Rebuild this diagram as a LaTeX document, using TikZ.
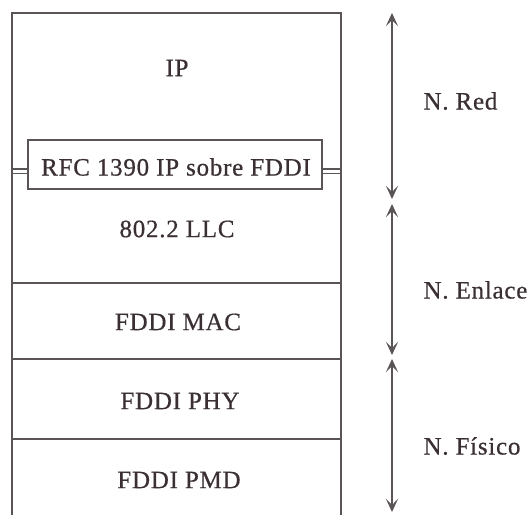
\documentclass[tikz,border=0pt]{standalone}
\usepackage{fontspec}
\setmainfont[LetterSpace=3,FakeBold=0.6]{Liberation Serif}
\usetikzlibrary{arrows.meta}
\definecolor{linec}{HTML}{5A5358}
\definecolor{textc}{HTML}{3A3034}
\tikzset{
  layer/.style={text=textc, font=\fontsize{25}{28}\selectfont, anchor=center},
  lvl/.style={text=textc, font=\fontsize{25}{28}\selectfont, anchor=west},
  frame/.style={draw=linec, line width=1.6pt},
  tipk/.style={},
  span/.style={draw=linec, line width=1.3pt, {Stealth[length=13pt,width=12pt,inset=6pt]}-{Stealth[length=13pt,width=12pt,inset=6pt]}},
}
\begin{document}
\begin{tikzpicture}[x=1pt,y=-1pt]
\useasboundingbox (0,0) rectangle (531,515);
% outer stack
\draw[frame] (12,515) -- (12,13) -- (341,13) -- (341,515);
\draw[frame] (12,283) -- (341,283);
\draw[frame] (12,359) -- (341,359);
\draw[frame] (12,439) -- (341,439);
% double connectors to RFC box
\draw[frame, line width=1.2pt] (12,169) -- (28,169) (12,173.5) -- (28,173.5);
\draw[frame, line width=1.2pt] (322,169) -- (341,169) (322,173.5) -- (341,173.5);
\node[draw=linec, line width=1.6pt, fill=white, minimum width=294pt, minimum height=49pt, inner sep=0pt] (rfc) at (175,164.5) {};
\node[layer] (rfct) at (176,167) {RFC 1390 IP sobre FDDI};
% layer labels
\node[layer] (ip) at (177,68) {IP};
\node[layer] (llc) at (177,229) {802.2 LLC};
\node[layer] (mac) at (178,322) {FDDI MAC};
\node[layer] (phy) at (180,401) {FDDI PHY};
\node[layer] (pmd) at (179,480) {FDDI PMD};
% level arrows
\coordinate (a1) at (392,13);
\coordinate (a2) at (392,199);
\coordinate (b1) at (392,204);
\coordinate (b2) at (392,355);
\coordinate (c1) at (392,359);
\coordinate (c2) at (392,512);
\draw[span] (a1) -- (a2);
\draw[span] (b1) -- (b2);
\draw[span] (c1) -- (c2);
% level labels
\node[lvl] (red) at (420,101) {N. Red};
\node[lvl] (enl) at (420,290) {N. Enlace};
\node[lvl] (fis) at (420,446) {N. Físico};
\end{tikzpicture}
\end{document}
